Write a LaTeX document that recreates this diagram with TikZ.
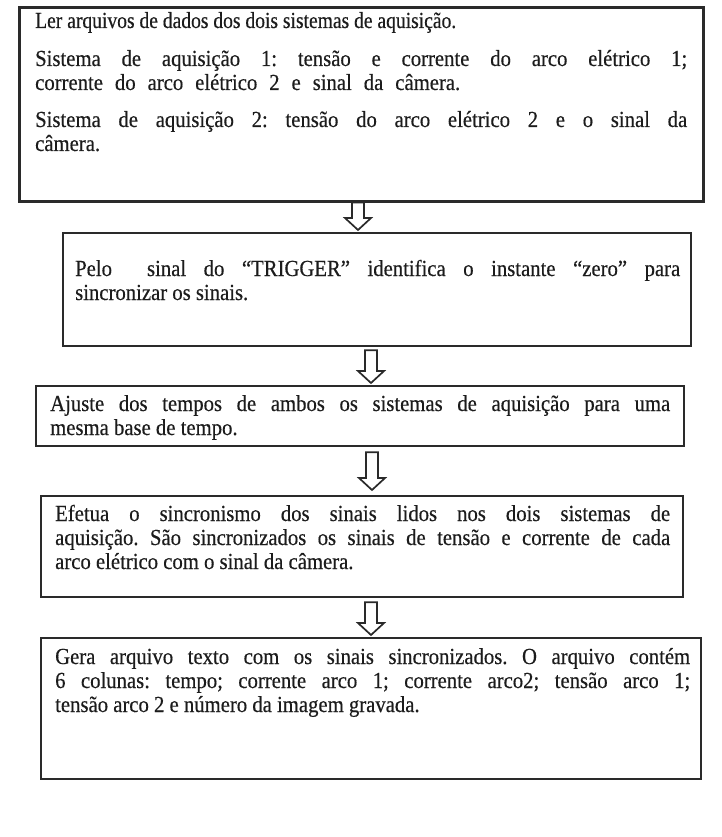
\documentclass[tikz,border=0pt]{standalone}
\usepackage{graphicx}
\usepackage{fontspec}
\setmainfont{Liberation Serif}[FakeStretch=0.9, FakeBold=0.4]
\usetikzlibrary{calc}
\definecolor{ink}{HTML}{1C1C1C}
\definecolor{edge}{HTML}{2A2A2A}
\newcommand{\drawblock}[2]{%
  \draw[blockarr] ($(#1)+(-6,0)$) -- ($(#2)+(-6,-12)$) -- ($(#2)+(-13,-12)$) -- (#2)
    -- ($(#2)+(13,-12)$) -- ($(#2)+(6,-12)$) -- ($(#1)+(6,0)$) -- cycle;}
\begin{document}
\frenchspacing
\begin{tikzpicture}[x=1pt,y=-1pt,
  box/.style={draw=edge, line width=2.2pt, inner sep=0pt, anchor=north west},
  para/.style={inner sep=0pt, anchor=base west, align=justify, text=ink,
    font=\fontsize{23}{24}\selectfont},
  blockarr/.style={draw=edge, line width=1.7pt, fill=white, line join=miter}]
\useasboundingbox (0,0) rectangle (722,837);
\fill[white] (0,0) rectangle (722,837);
% boxes
\node[box, line width=2.6pt, minimum width=684pt, minimum height=194pt] (b1) at (18,6) {};
\node[box, minimum width=628pt, minimum height=113pt] (b2) at (62,232) {};
\node[box, minimum width=648pt, minimum height=60pt] (b3) at (35,385) {};
\node[box, minimum width=642pt, minimum height=101pt] (b4) at (40,495) {};
\node[box, minimum width=660pt, minimum height=141pt] (b5) at (40,637) {};
% texts
\node[para, text width=652pt] (t11) at (35,28) {\scalebox{0.945}[1]{Ler arquivos de dados dos dois sistemas de aquisição.}};
\node[para, text width=652pt] (t12) at (35,66) {Sistema de aquisição 1: tensão e corrente do arco elétrico 1;\linebreak \makebox[425pt][s]{corrente do arco elétrico 2 e sinal da câmera.}};
\node[para, text width=652pt] (t13) at (35,127) {Sistema de aquisição 2: tensão do arco elétrico 2 e o sinal da\linebreak câmera.};
\node[para, text width=605pt] (t2) at (75,276) {Pelo\ \ sinal do “TRIGGER” identifica o instante “zero” para\linebreak sincronizar os sinais.};
\node[para, text width=620pt] (t3) at (50,411) {Ajuste dos tempos de ambos os sistemas de aquisição para uma\linebreak mesma base de tempo.};
\node[para, text width=615pt] (t4) at (55,521) {Efetua o sincronismo dos sinais lidos nos dois sistemas de\linebreak aquisição. São sincronizados os sinais de tensão e corrente de cada\linebreak arco elétrico com o sinal da câmera.};
\node[para, text width=635pt] (t5) at (55,664) {Gera arquivo texto com os sinais sincronizados. O arquivo contém\linebreak 6 colunas: tempo; corrente arco 1; corrente arco2; tensão arco 1;\linebreak tensão arco 2 e número da imagem gravada.};
% arrow columns
\coordinate (x1) at (358,0);
\coordinate (x2) at (371,0);
\coordinate (x3) at (372,0);
\coordinate (x4) at (371,0);
% arrow tails and tips
\coordinate (s1) at (b1.south -| x1);
\coordinate (k1) at ($(b2.north -| x1)+(0,-2)$);
\coordinate (s2) at ($(b2.south -| x2)+(0,3)$);
\coordinate (k2) at ($(b3.north -| x2)+(0,-2)$);
\coordinate (s3) at ($(b3.south -| x3)+(0,5)$);
\coordinate (k3) at ($(b4.north -| x3)+(0,-5)$);
\coordinate (s4) at ($(b4.south -| x4)+(0,4)$);
\coordinate (k4) at ($(b5.north -| x4)+(0,-2)$);
% block arrows
\drawblock{s1}{k1}
\drawblock{s2}{k2}
\drawblock{s3}{k3}
\drawblock{s4}{k4}
\end{tikzpicture}
\end{document}
